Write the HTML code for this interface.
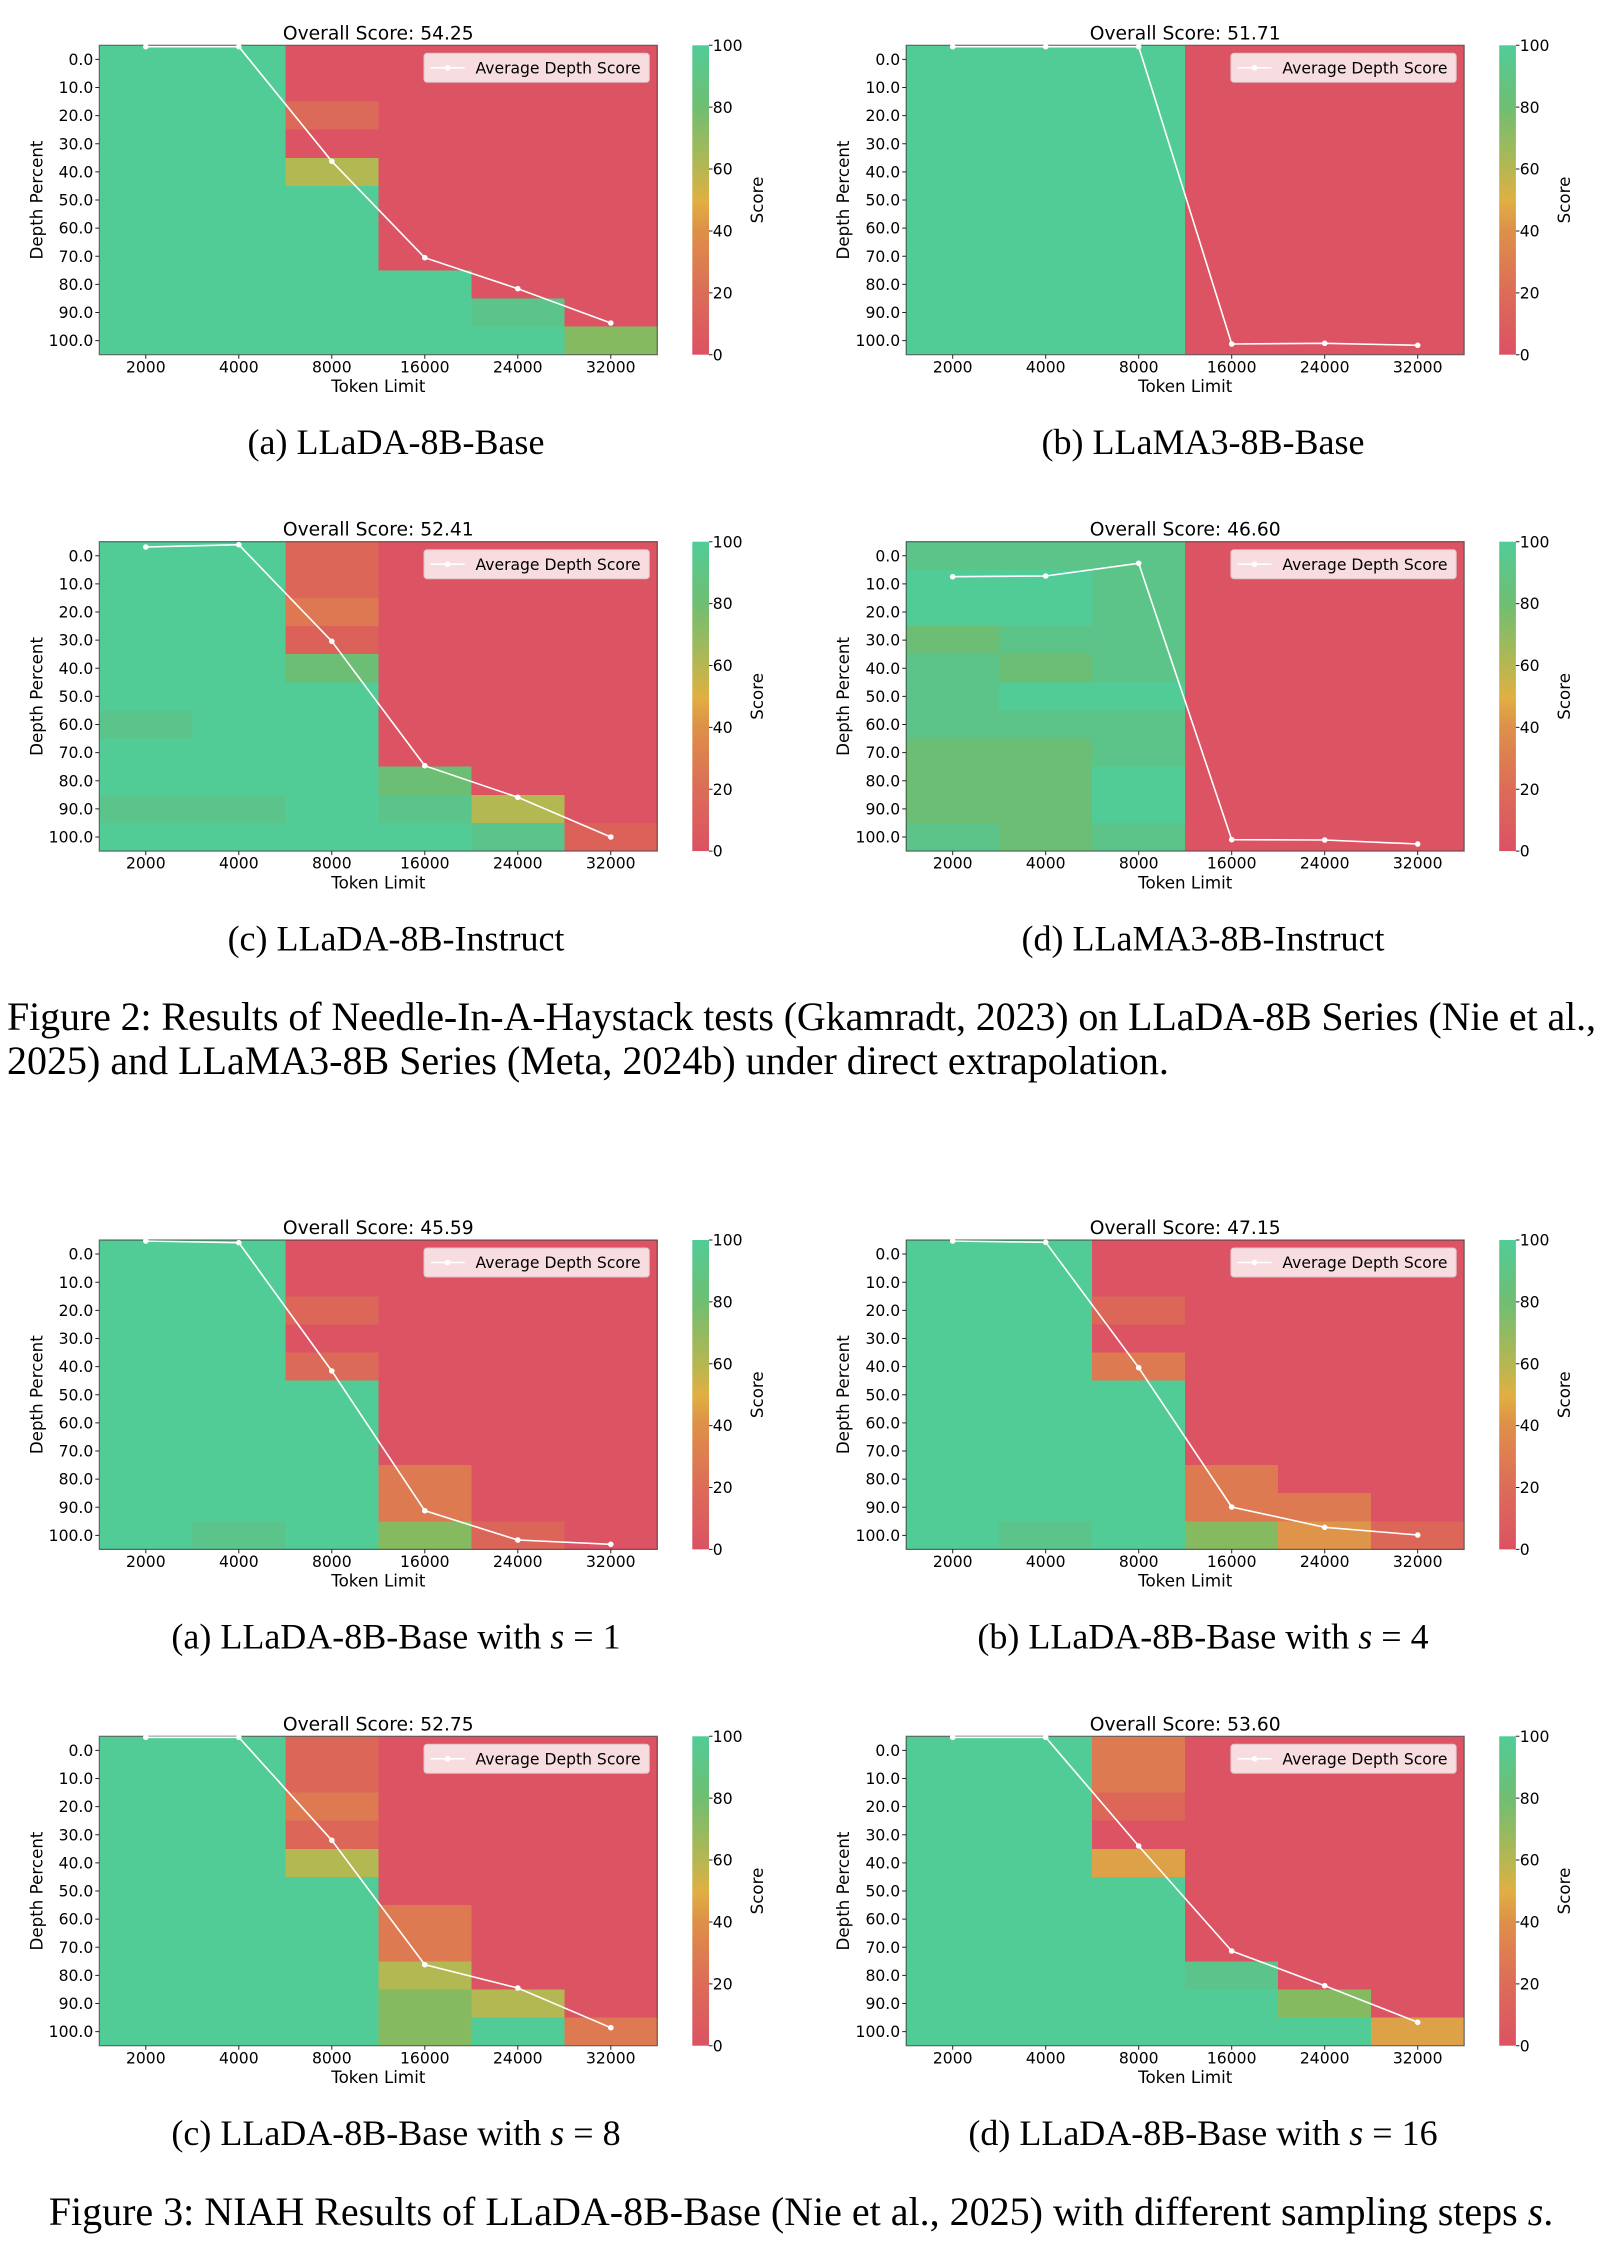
<!DOCTYPE html>
<html>
<head>
<meta charset="utf-8">
<style>
html,body{margin:0;padding:0;background:#fff;}
svg{display:block;}
.tk{font-family:"DejaVu Sans","Liberation Sans",sans-serif;font-size:15.6px;fill:#000;}
.lb{font-family:"DejaVu Sans","Liberation Sans",sans-serif;font-size:16.7px;fill:#000;}
.ti{font-family:"DejaVu Sans","Liberation Sans",sans-serif;font-size:18.7px;fill:#000;}
.cap{font-family:"Liberation Serif","Times New Roman",serif;font-size:36px;fill:#000;}
.fcap{font-family:"Liberation Serif","Times New Roman",serif;font-size:40px;fill:#000;}
.tm{stroke:#222;stroke-width:1;fill:none;}
.fr{fill:none;stroke:#333;stroke-opacity:.7;stroke-width:1.2;}
.avg{fill:none;stroke:#fff;stroke-width:1.6;}
.leg{fill:#F8DDE0;stroke:#DCC3C7;stroke-width:1;}
</style>
</head>
<body>
<svg xmlns="http://www.w3.org/2000/svg" width="1604" height="2244" viewBox="0 0 1604 2244">
<defs>
<linearGradient id="cb" x1="0" y1="0" x2="0" y2="1">
<stop offset="0" stop-color="#51CC97"/>
<stop offset="0.2" stop-color="#6FBE72"/>
<stop offset="0.4" stop-color="#B5B752"/>
<stop offset="0.5" stop-color="#E0B042"/>
<stop offset="0.6" stop-color="#DE9049"/>
<stop offset="0.8" stop-color="#DC6C58"/>
<stop offset="1" stop-color="#DC5263"/>
</linearGradient>
</defs>
<rect width="1604" height="2244" fill="#fff"/>

<!-- ============ FIG 2 (a) ============ -->
<g transform="translate(99.3,45.3)">
<text class="ti" x="279" y="-6" text-anchor="middle">Overall Score: 54.25</text>
<g shape-rendering="crispEdges">
<rect width="558" height="309.4" fill="#51CC97"/>
<rect x="186" width="93" height="140.64" fill="#DC5363"/>
<rect x="186" y="56.25" width="93" height="28.13" fill="#DC6A58"/>
<rect x="186" y="112.51" width="93" height="28.13" fill="#B3B852"/>
<rect x="279" width="93" height="225.02" fill="#DC5363"/>
<rect x="372" width="93" height="253.14" fill="#DC5363"/>
<rect x="372" y="253.14" width="93" height="28.13" fill="#5AC48A"/>
<rect x="465" width="93" height="281.27" fill="#DC5363"/>
<rect x="465" y="281.27" width="93" height="28.13" fill="#86BA60"/>
</g>
<rect class="fr" width="558" height="309.4"/>
<polyline class="avg" points="46.5,1.4 139.5,1.4 232.5,116 325.5,212.4 418.5,243.4 511.5,277.7"/>
<g fill="#fff"><circle cx="46.5" cy="1.4" r="2.8"/><circle cx="139.5" cy="1.4" r="2.8"/><circle cx="232.5" cy="116" r="2.8"/><circle cx="325.5" cy="212.4" r="2.8"/><circle cx="418.5" cy="243.4" r="2.8"/><circle cx="511.5" cy="277.7" r="2.8"/></g>
<rect class="leg" x="324.7" y="8" width="225.3" height="29" rx="3"/>
<line x1="331.4" y1="22.5" x2="365.4" y2="22.5" stroke="#fff" stroke-width="1.6"/><circle cx="348.4" cy="22.5" r="2.8" fill="#fff"/>
<text class="tk" x="376.2" y="28.2">Average Depth Score</text>
<path class="tm" d="M-4 14.06H0M-4 42.19H0M-4 70.32H0M-4 98.44H0M-4 126.57H0M-4 154.7H0M-4 182.82H0M-4 210.95H0M-4 239.08H0M-4 267.2H0M-4 295.33H0M46.5 309.4V313.4M139.5 309.4V313.4M232.5 309.4V313.4M325.5 309.4V313.4M418.5 309.4V313.4M511.5 309.4V313.4"/>
<g class="tk" text-anchor="end"><text x="-6" y="19.66">0.0</text><text x="-6" y="47.79">10.0</text><text x="-6" y="75.92">20.0</text><text x="-6" y="104.04">30.0</text><text x="-6" y="132.17">40.0</text><text x="-6" y="160.3">50.0</text><text x="-6" y="188.42">60.0</text><text x="-6" y="216.55">70.0</text><text x="-6" y="244.68">80.0</text><text x="-6" y="272.8">90.0</text><text x="-6" y="300.93">100.0</text></g>
<g class="tk" text-anchor="middle"><text x="46.5" y="327">2000</text><text x="139.5" y="327">4000</text><text x="232.5" y="327">8000</text><text x="325.5" y="327">16000</text><text x="418.5" y="327">24000</text><text x="511.5" y="327">32000</text></g>
<text class="lb" x="279" y="346.7" text-anchor="middle">Token Limit</text>
<text class="lb" transform="translate(-63,154.7) rotate(-90)" text-anchor="middle" dominant-baseline="central">Depth Percent</text>
<rect x="593" y="0" width="16.7" height="309.4" fill="url(#cb)"/>
<path class="tm" d="M609.7 309.4H613.2M609.7 247.52H613.2M609.7 185.64H613.2M609.7 123.76H613.2M609.7 61.88H613.2M609.7 0H613.2"/>
<g class="tk"><text x="613.5" y="315">0</text><text x="613.5" y="253.1">20</text><text x="613.5" y="191.2">40</text><text x="613.5" y="129.4">60</text><text x="613.5" y="67.5">80</text><text x="613.5" y="5.6">100</text></g>
<text class="lb" transform="translate(657.7,154.7) rotate(-90)" text-anchor="middle" dominant-baseline="central">Score</text>
</g>

<!-- ============ FIG 2 (b) ============ -->
<g transform="translate(906.2,45.3)">
<text class="ti" x="279" y="-6" text-anchor="middle">Overall Score: 51.71</text>
<g shape-rendering="crispEdges">
<rect width="558" height="309.4" fill="#51CC97"/>
<rect x="279" width="279" height="309.4" fill="#DC5363"/>
</g>
<rect class="fr" width="558" height="309.4"/>
<polyline class="avg" points="46.5,1.4 139.5,1.4 232.5,1.4 325.5,298.7 418.5,298 511.5,300"/>
<g fill="#fff"><circle cx="46.5" cy="1.4" r="2.8"/><circle cx="139.5" cy="1.4" r="2.8"/><circle cx="232.5" cy="1.4" r="2.8"/><circle cx="325.5" cy="298.7" r="2.8"/><circle cx="418.5" cy="298" r="2.8"/><circle cx="511.5" cy="300" r="2.8"/></g>
<rect class="leg" x="324.7" y="8" width="225.3" height="29" rx="3"/>
<line x1="331.4" y1="22.5" x2="365.4" y2="22.5" stroke="#fff" stroke-width="1.6"/><circle cx="348.4" cy="22.5" r="2.8" fill="#fff"/>
<text class="tk" x="376.2" y="28.2">Average Depth Score</text>
<path class="tm" d="M-4 14.06H0M-4 42.19H0M-4 70.32H0M-4 98.44H0M-4 126.57H0M-4 154.7H0M-4 182.82H0M-4 210.95H0M-4 239.08H0M-4 267.2H0M-4 295.33H0M46.5 309.4V313.4M139.5 309.4V313.4M232.5 309.4V313.4M325.5 309.4V313.4M418.5 309.4V313.4M511.5 309.4V313.4"/>
<g class="tk" text-anchor="end"><text x="-6" y="19.66">0.0</text><text x="-6" y="47.79">10.0</text><text x="-6" y="75.92">20.0</text><text x="-6" y="104.04">30.0</text><text x="-6" y="132.17">40.0</text><text x="-6" y="160.3">50.0</text><text x="-6" y="188.42">60.0</text><text x="-6" y="216.55">70.0</text><text x="-6" y="244.68">80.0</text><text x="-6" y="272.8">90.0</text><text x="-6" y="300.93">100.0</text></g>
<g class="tk" text-anchor="middle"><text x="46.5" y="327">2000</text><text x="139.5" y="327">4000</text><text x="232.5" y="327">8000</text><text x="325.5" y="327">16000</text><text x="418.5" y="327">24000</text><text x="511.5" y="327">32000</text></g>
<text class="lb" x="279" y="346.7" text-anchor="middle">Token Limit</text>
<text class="lb" transform="translate(-63,154.7) rotate(-90)" text-anchor="middle" dominant-baseline="central">Depth Percent</text>
<rect x="593" y="0" width="16.7" height="309.4" fill="url(#cb)"/>
<path class="tm" d="M609.7 309.4H613.2M609.7 247.52H613.2M609.7 185.64H613.2M609.7 123.76H613.2M609.7 61.88H613.2M609.7 0H613.2"/>
<g class="tk"><text x="613.5" y="315">0</text><text x="613.5" y="253.1">20</text><text x="613.5" y="191.2">40</text><text x="613.5" y="129.4">60</text><text x="613.5" y="67.5">80</text><text x="613.5" y="5.6">100</text></g>
<text class="lb" transform="translate(657.7,154.7) rotate(-90)" text-anchor="middle" dominant-baseline="central">Score</text>
</g>

<text class="cap" x="396" y="454" text-anchor="middle">(a) LLaDA-8B-Base</text>
<text class="cap" x="1203" y="454" text-anchor="middle">(b) LLaMA3-8B-Base</text>

<!-- ============ FIG 2 (c) ============ -->
<g transform="translate(99.3,541.7)">
<text class="ti" x="279" y="-6" text-anchor="middle">Overall Score: 52.41</text>
<g shape-rendering="crispEdges">
<rect width="558" height="309.4" fill="#51CC97"/>
<rect x="0" y="168.76" width="93" height="28.13" fill="#5AC48A"/>
<rect x="0" y="253.14" width="186" height="28.13" fill="#5AC48A"/>
<rect x="186" y="0" width="93" height="56.25" fill="#DC6759"/>
<rect x="186" y="56.25" width="93" height="28.13" fill="#DD7852"/>
<rect x="186" y="84.38" width="93" height="28.13" fill="#DC6259"/>
<rect x="186" y="112.51" width="93" height="28.13" fill="#6DBE75"/>
<rect x="279" width="93" height="225.02" fill="#DC5363"/>
<rect x="279" y="225.02" width="93" height="28.13" fill="#6DBE75"/>
<rect x="279" y="253.14" width="93" height="28.13" fill="#5AC48A"/>
<rect x="372" width="93" height="253.14" fill="#DC5363"/>
<rect x="372" y="253.14" width="93" height="28.13" fill="#B3B852"/>
<rect x="372" y="281.27" width="93" height="28.13" fill="#5AC48A"/>
<rect x="465" width="93" height="281.27" fill="#DC5363"/>
<rect x="465" y="281.27" width="93" height="28.13" fill="#DC6259"/>
</g>
<rect class="fr" width="558" height="309.4"/>
<polyline class="avg" points="46.5,5.3 139.5,3 232.5,99.6 325.5,224 418.5,255.6 511.5,295.3"/>
<g fill="#fff"><circle cx="46.5" cy="5.3" r="2.8"/><circle cx="139.5" cy="3" r="2.8"/><circle cx="232.5" cy="99.6" r="2.8"/><circle cx="325.5" cy="224" r="2.8"/><circle cx="418.5" cy="255.6" r="2.8"/><circle cx="511.5" cy="295.3" r="2.8"/></g>
<rect class="leg" x="324.7" y="8" width="225.3" height="29" rx="3"/>
<line x1="331.4" y1="22.5" x2="365.4" y2="22.5" stroke="#fff" stroke-width="1.6"/><circle cx="348.4" cy="22.5" r="2.8" fill="#fff"/>
<text class="tk" x="376.2" y="28.2">Average Depth Score</text>
<path class="tm" d="M-4 14.06H0M-4 42.19H0M-4 70.32H0M-4 98.44H0M-4 126.57H0M-4 154.7H0M-4 182.82H0M-4 210.95H0M-4 239.08H0M-4 267.2H0M-4 295.33H0M46.5 309.4V313.4M139.5 309.4V313.4M232.5 309.4V313.4M325.5 309.4V313.4M418.5 309.4V313.4M511.5 309.4V313.4"/>
<g class="tk" text-anchor="end"><text x="-6" y="19.66">0.0</text><text x="-6" y="47.79">10.0</text><text x="-6" y="75.92">20.0</text><text x="-6" y="104.04">30.0</text><text x="-6" y="132.17">40.0</text><text x="-6" y="160.3">50.0</text><text x="-6" y="188.42">60.0</text><text x="-6" y="216.55">70.0</text><text x="-6" y="244.68">80.0</text><text x="-6" y="272.8">90.0</text><text x="-6" y="300.93">100.0</text></g>
<g class="tk" text-anchor="middle"><text x="46.5" y="327">2000</text><text x="139.5" y="327">4000</text><text x="232.5" y="327">8000</text><text x="325.5" y="327">16000</text><text x="418.5" y="327">24000</text><text x="511.5" y="327">32000</text></g>
<text class="lb" x="279" y="346.7" text-anchor="middle">Token Limit</text>
<text class="lb" transform="translate(-63,154.7) rotate(-90)" text-anchor="middle" dominant-baseline="central">Depth Percent</text>
<rect x="593" y="0" width="16.7" height="309.4" fill="url(#cb)"/>
<path class="tm" d="M609.7 309.4H613.2M609.7 247.52H613.2M609.7 185.64H613.2M609.7 123.76H613.2M609.7 61.88H613.2M609.7 0H613.2"/>
<g class="tk"><text x="613.5" y="315">0</text><text x="613.5" y="253.1">20</text><text x="613.5" y="191.2">40</text><text x="613.5" y="129.4">60</text><text x="613.5" y="67.5">80</text><text x="613.5" y="5.6">100</text></g>
<text class="lb" transform="translate(657.7,154.7) rotate(-90)" text-anchor="middle" dominant-baseline="central">Score</text>
</g>

<!-- ============ FIG 2 (d) ============ -->
<g transform="translate(906.2,541.7)">
<text class="ti" x="279" y="-6" text-anchor="middle">Overall Score: 46.60</text>
<g shape-rendering="crispEdges">
<rect width="279" height="309.4" fill="#5CC389"/>
<rect x="279" width="279" height="309.4" fill="#DC5363"/>
<rect x="0" y="28.13" width="186" height="56.25" fill="#51CC97"/>
<rect x="0" y="84.38" width="93" height="28.13" fill="#6DBE75"/>
<rect x="0" y="196.89" width="93" height="84.38" fill="#6DBE75"/>
<rect x="93" y="112.51" width="93" height="28.13" fill="#6DBE75"/>
<rect x="93" y="140.64" width="186" height="28.13" fill="#51CC97"/>
<rect x="93" y="196.89" width="93" height="112.51" fill="#6DBE75"/>
<rect x="186" y="225.02" width="93" height="56.25" fill="#51CC97"/>
</g>
<rect class="fr" width="558" height="309.4"/>
<polyline class="avg" points="46.5,35 139.5,34.3 232.5,21.6 325.5,298 418.5,298.3 511.5,302.3"/>
<g fill="#fff"><circle cx="46.5" cy="35" r="2.8"/><circle cx="139.5" cy="34.3" r="2.8"/><circle cx="232.5" cy="21.6" r="2.8"/><circle cx="325.5" cy="298" r="2.8"/><circle cx="418.5" cy="298.3" r="2.8"/><circle cx="511.5" cy="302.3" r="2.8"/></g>
<rect class="leg" x="324.7" y="8" width="225.3" height="29" rx="3"/>
<line x1="331.4" y1="22.5" x2="365.4" y2="22.5" stroke="#fff" stroke-width="1.6"/><circle cx="348.4" cy="22.5" r="2.8" fill="#fff"/>
<text class="tk" x="376.2" y="28.2">Average Depth Score</text>
<path class="tm" d="M-4 14.06H0M-4 42.19H0M-4 70.32H0M-4 98.44H0M-4 126.57H0M-4 154.7H0M-4 182.82H0M-4 210.95H0M-4 239.08H0M-4 267.2H0M-4 295.33H0M46.5 309.4V313.4M139.5 309.4V313.4M232.5 309.4V313.4M325.5 309.4V313.4M418.5 309.4V313.4M511.5 309.4V313.4"/>
<g class="tk" text-anchor="end"><text x="-6" y="19.66">0.0</text><text x="-6" y="47.79">10.0</text><text x="-6" y="75.92">20.0</text><text x="-6" y="104.04">30.0</text><text x="-6" y="132.17">40.0</text><text x="-6" y="160.3">50.0</text><text x="-6" y="188.42">60.0</text><text x="-6" y="216.55">70.0</text><text x="-6" y="244.68">80.0</text><text x="-6" y="272.8">90.0</text><text x="-6" y="300.93">100.0</text></g>
<g class="tk" text-anchor="middle"><text x="46.5" y="327">2000</text><text x="139.5" y="327">4000</text><text x="232.5" y="327">8000</text><text x="325.5" y="327">16000</text><text x="418.5" y="327">24000</text><text x="511.5" y="327">32000</text></g>
<text class="lb" x="279" y="346.7" text-anchor="middle">Token Limit</text>
<text class="lb" transform="translate(-63,154.7) rotate(-90)" text-anchor="middle" dominant-baseline="central">Depth Percent</text>
<rect x="593" y="0" width="16.7" height="309.4" fill="url(#cb)"/>
<path class="tm" d="M609.7 309.4H613.2M609.7 247.52H613.2M609.7 185.64H613.2M609.7 123.76H613.2M609.7 61.88H613.2M609.7 0H613.2"/>
<g class="tk"><text x="613.5" y="315">0</text><text x="613.5" y="253.1">20</text><text x="613.5" y="191.2">40</text><text x="613.5" y="129.4">60</text><text x="613.5" y="67.5">80</text><text x="613.5" y="5.6">100</text></g>
<text class="lb" transform="translate(657.7,154.7) rotate(-90)" text-anchor="middle" dominant-baseline="central">Score</text>
</g>

<text class="cap" x="396" y="950.4" text-anchor="middle">(c) LLaDA-8B-Instruct</text>
<text class="cap" x="1203" y="950.4" text-anchor="middle">(d) LLaMA3-8B-Instruct</text>

<text class="fcap" x="7" y="1030" textLength="1589" lengthAdjust="spacing">Figure 2: Results of Needle-In-A-Haystack tests (Gkamradt, 2023) on LLaDA-8B Series (Nie et al.,</text>
<text class="fcap" x="7" y="1074">2025) and LLaMA3-8B Series (Meta, 2024b) under direct extrapolation.</text>

<!-- ============ FIG 3 (a) ============ -->
<g transform="translate(99.3,1240)">
<text class="ti" x="279" y="-6" text-anchor="middle">Overall Score: 45.59</text>
<g shape-rendering="crispEdges">
<rect width="558" height="309.4" fill="#51CC97"/>
<rect x="93" y="281.27" width="93" height="28.13" fill="#5AC48A"/>
<rect x="186" width="93" height="140.64" fill="#DC5363"/>
<rect x="186" y="56.25" width="93" height="28.13" fill="#DC6759"/>
<rect x="186" y="112.51" width="93" height="28.13" fill="#DC6A58"/>
<rect x="279" width="93" height="225.02" fill="#DC5363"/>
<rect x="279" y="225.02" width="93" height="56.25" fill="#DD7A52"/>
<rect x="279" y="281.27" width="93" height="28.13" fill="#86BA60"/>
<rect x="372" width="93" height="281.27" fill="#DC5363"/>
<rect x="372" y="281.27" width="93" height="28.13" fill="#DC6559"/>
<rect x="465" width="93" height="309.4" fill="#DC5363"/>
</g>
<rect class="fr" width="558" height="309.4"/>
<polyline class="avg" points="46.5,1 139.5,2.7 232.5,131 325.5,270.7 418.5,300 511.5,304.3"/>
<g fill="#fff"><circle cx="46.5" cy="1" r="2.8"/><circle cx="139.5" cy="2.7" r="2.8"/><circle cx="232.5" cy="131" r="2.8"/><circle cx="325.5" cy="270.7" r="2.8"/><circle cx="418.5" cy="300" r="2.8"/><circle cx="511.5" cy="304.3" r="2.8"/></g>
<rect class="leg" x="324.7" y="8" width="225.3" height="29" rx="3"/>
<line x1="331.4" y1="22.5" x2="365.4" y2="22.5" stroke="#fff" stroke-width="1.6"/><circle cx="348.4" cy="22.5" r="2.8" fill="#fff"/>
<text class="tk" x="376.2" y="28.2">Average Depth Score</text>
<path class="tm" d="M-4 14.06H0M-4 42.19H0M-4 70.32H0M-4 98.44H0M-4 126.57H0M-4 154.7H0M-4 182.82H0M-4 210.95H0M-4 239.08H0M-4 267.2H0M-4 295.33H0M46.5 309.4V313.4M139.5 309.4V313.4M232.5 309.4V313.4M325.5 309.4V313.4M418.5 309.4V313.4M511.5 309.4V313.4"/>
<g class="tk" text-anchor="end"><text x="-6" y="19.66">0.0</text><text x="-6" y="47.79">10.0</text><text x="-6" y="75.92">20.0</text><text x="-6" y="104.04">30.0</text><text x="-6" y="132.17">40.0</text><text x="-6" y="160.3">50.0</text><text x="-6" y="188.42">60.0</text><text x="-6" y="216.55">70.0</text><text x="-6" y="244.68">80.0</text><text x="-6" y="272.8">90.0</text><text x="-6" y="300.93">100.0</text></g>
<g class="tk" text-anchor="middle"><text x="46.5" y="327">2000</text><text x="139.5" y="327">4000</text><text x="232.5" y="327">8000</text><text x="325.5" y="327">16000</text><text x="418.5" y="327">24000</text><text x="511.5" y="327">32000</text></g>
<text class="lb" x="279" y="346.7" text-anchor="middle">Token Limit</text>
<text class="lb" transform="translate(-63,154.7) rotate(-90)" text-anchor="middle" dominant-baseline="central">Depth Percent</text>
<rect x="593" y="0" width="16.7" height="309.4" fill="url(#cb)"/>
<path class="tm" d="M609.7 309.4H613.2M609.7 247.52H613.2M609.7 185.64H613.2M609.7 123.76H613.2M609.7 61.88H613.2M609.7 0H613.2"/>
<g class="tk"><text x="613.5" y="315">0</text><text x="613.5" y="253.1">20</text><text x="613.5" y="191.2">40</text><text x="613.5" y="129.4">60</text><text x="613.5" y="67.5">80</text><text x="613.5" y="5.6">100</text></g>
<text class="lb" transform="translate(657.7,154.7) rotate(-90)" text-anchor="middle" dominant-baseline="central">Score</text>
</g>

<!-- ============ FIG 3 (b) ============ -->
<g transform="translate(906.2,1240)">
<text class="ti" x="279" y="-6" text-anchor="middle">Overall Score: 47.15</text>
<g shape-rendering="crispEdges">
<rect width="558" height="309.4" fill="#51CC97"/>
<rect x="93" y="281.27" width="93" height="28.13" fill="#5AC48A"/>
<rect x="186" width="93" height="140.64" fill="#DC5363"/>
<rect x="186" y="56.25" width="93" height="28.13" fill="#DC6759"/>
<rect x="186" y="112.51" width="93" height="28.13" fill="#DD7A52"/>
<rect x="279" width="93" height="225.02" fill="#DC5363"/>
<rect x="279" y="225.02" width="93" height="56.25" fill="#DD7A52"/>
<rect x="279" y="281.27" width="93" height="28.13" fill="#86BA60"/>
<rect x="372" width="93" height="253.14" fill="#DC5363"/>
<rect x="372" y="253.14" width="93" height="28.13" fill="#DD7A52"/>
<rect x="372" y="281.27" width="93" height="28.13" fill="#DE9449"/>
<rect x="465" width="93" height="281.27" fill="#DC5363"/>
<rect x="465" y="281.27" width="93" height="28.13" fill="#DC6759"/>
</g>
<rect class="fr" width="558" height="309.4"/>
<polyline class="avg" points="46.5,1 139.5,2.3 232.5,127.7 325.5,267 418.5,287.3 511.5,295"/>
<g fill="#fff"><circle cx="46.5" cy="1" r="2.8"/><circle cx="139.5" cy="2.3" r="2.8"/><circle cx="232.5" cy="127.7" r="2.8"/><circle cx="325.5" cy="267" r="2.8"/><circle cx="418.5" cy="287.3" r="2.8"/><circle cx="511.5" cy="295" r="2.8"/></g>
<rect class="leg" x="324.7" y="8" width="225.3" height="29" rx="3"/>
<line x1="331.4" y1="22.5" x2="365.4" y2="22.5" stroke="#fff" stroke-width="1.6"/><circle cx="348.4" cy="22.5" r="2.8" fill="#fff"/>
<text class="tk" x="376.2" y="28.2">Average Depth Score</text>
<path class="tm" d="M-4 14.06H0M-4 42.19H0M-4 70.32H0M-4 98.44H0M-4 126.57H0M-4 154.7H0M-4 182.82H0M-4 210.95H0M-4 239.08H0M-4 267.2H0M-4 295.33H0M46.5 309.4V313.4M139.5 309.4V313.4M232.5 309.4V313.4M325.5 309.4V313.4M418.5 309.4V313.4M511.5 309.4V313.4"/>
<g class="tk" text-anchor="end"><text x="-6" y="19.66">0.0</text><text x="-6" y="47.79">10.0</text><text x="-6" y="75.92">20.0</text><text x="-6" y="104.04">30.0</text><text x="-6" y="132.17">40.0</text><text x="-6" y="160.3">50.0</text><text x="-6" y="188.42">60.0</text><text x="-6" y="216.55">70.0</text><text x="-6" y="244.68">80.0</text><text x="-6" y="272.8">90.0</text><text x="-6" y="300.93">100.0</text></g>
<g class="tk" text-anchor="middle"><text x="46.5" y="327">2000</text><text x="139.5" y="327">4000</text><text x="232.5" y="327">8000</text><text x="325.5" y="327">16000</text><text x="418.5" y="327">24000</text><text x="511.5" y="327">32000</text></g>
<text class="lb" x="279" y="346.7" text-anchor="middle">Token Limit</text>
<text class="lb" transform="translate(-63,154.7) rotate(-90)" text-anchor="middle" dominant-baseline="central">Depth Percent</text>
<rect x="593" y="0" width="16.7" height="309.4" fill="url(#cb)"/>
<path class="tm" d="M609.7 309.4H613.2M609.7 247.52H613.2M609.7 185.64H613.2M609.7 123.76H613.2M609.7 61.88H613.2M609.7 0H613.2"/>
<g class="tk"><text x="613.5" y="315">0</text><text x="613.5" y="253.1">20</text><text x="613.5" y="191.2">40</text><text x="613.5" y="129.4">60</text><text x="613.5" y="67.5">80</text><text x="613.5" y="5.6">100</text></g>
<text class="lb" transform="translate(657.7,154.7) rotate(-90)" text-anchor="middle" dominant-baseline="central">Score</text>
</g>

<text class="cap" x="396" y="1648.7" text-anchor="middle">(a) LLaDA-8B-Base with <tspan font-style="italic">s</tspan> = 1</text>
<text class="cap" x="1203" y="1648.7" text-anchor="middle">(b) LLaDA-8B-Base with <tspan font-style="italic">s</tspan> = 4</text>

<!-- ============ FIG 3 (c) ============ -->
<g transform="translate(99.3,1736.3)">
<text class="ti" x="279" y="-6" text-anchor="middle">Overall Score: 52.75</text>
<g shape-rendering="crispEdges">
<rect width="558" height="309.4" fill="#51CC97"/>
<rect x="186" y="0" width="93" height="56.25" fill="#DC6759"/>
<rect x="186" y="56.25" width="93" height="28.13" fill="#DD7A52"/>
<rect x="186" y="84.38" width="93" height="28.13" fill="#DC6759"/>
<rect x="186" y="112.51" width="93" height="28.13" fill="#B3B852"/>
<rect x="279" width="93" height="168.76" fill="#DC5363"/>
<rect x="279" y="168.76" width="93" height="56.26" fill="#DD7A52"/>
<rect x="279" y="225.02" width="93" height="28.13" fill="#B3B852"/>
<rect x="279" y="253.14" width="93" height="56.26" fill="#86BA60"/>
<rect x="372" width="93" height="253.14" fill="#DC5363"/>
<rect x="372" y="253.14" width="93" height="28.13" fill="#B3B852"/>
<rect x="465" width="93" height="281.27" fill="#DC5363"/>
<rect x="465" y="281.27" width="93" height="28.13" fill="#DD7A52"/>
</g>
<rect class="fr" width="558" height="309.4"/>
<polyline class="avg" points="46.5,1 139.5,1 232.5,104 325.5,228.4 418.5,251.7 511.5,291.4"/>
<g fill="#fff"><circle cx="46.5" cy="1" r="2.8"/><circle cx="139.5" cy="1" r="2.8"/><circle cx="232.5" cy="104" r="2.8"/><circle cx="325.5" cy="228.4" r="2.8"/><circle cx="418.5" cy="251.7" r="2.8"/><circle cx="511.5" cy="291.4" r="2.8"/></g>
<rect class="leg" x="324.7" y="8" width="225.3" height="29" rx="3"/>
<line x1="331.4" y1="22.5" x2="365.4" y2="22.5" stroke="#fff" stroke-width="1.6"/><circle cx="348.4" cy="22.5" r="2.8" fill="#fff"/>
<text class="tk" x="376.2" y="28.2">Average Depth Score</text>
<path class="tm" d="M-4 14.06H0M-4 42.19H0M-4 70.32H0M-4 98.44H0M-4 126.57H0M-4 154.7H0M-4 182.82H0M-4 210.95H0M-4 239.08H0M-4 267.2H0M-4 295.33H0M46.5 309.4V313.4M139.5 309.4V313.4M232.5 309.4V313.4M325.5 309.4V313.4M418.5 309.4V313.4M511.5 309.4V313.4"/>
<g class="tk" text-anchor="end"><text x="-6" y="19.66">0.0</text><text x="-6" y="47.79">10.0</text><text x="-6" y="75.92">20.0</text><text x="-6" y="104.04">30.0</text><text x="-6" y="132.17">40.0</text><text x="-6" y="160.3">50.0</text><text x="-6" y="188.42">60.0</text><text x="-6" y="216.55">70.0</text><text x="-6" y="244.68">80.0</text><text x="-6" y="272.8">90.0</text><text x="-6" y="300.93">100.0</text></g>
<g class="tk" text-anchor="middle"><text x="46.5" y="327">2000</text><text x="139.5" y="327">4000</text><text x="232.5" y="327">8000</text><text x="325.5" y="327">16000</text><text x="418.5" y="327">24000</text><text x="511.5" y="327">32000</text></g>
<text class="lb" x="279" y="346.7" text-anchor="middle">Token Limit</text>
<text class="lb" transform="translate(-63,154.7) rotate(-90)" text-anchor="middle" dominant-baseline="central">Depth Percent</text>
<rect x="593" y="0" width="16.7" height="309.4" fill="url(#cb)"/>
<path class="tm" d="M609.7 309.4H613.2M609.7 247.52H613.2M609.7 185.64H613.2M609.7 123.76H613.2M609.7 61.88H613.2M609.7 0H613.2"/>
<g class="tk"><text x="613.5" y="315">0</text><text x="613.5" y="253.1">20</text><text x="613.5" y="191.2">40</text><text x="613.5" y="129.4">60</text><text x="613.5" y="67.5">80</text><text x="613.5" y="5.6">100</text></g>
<text class="lb" transform="translate(657.7,154.7) rotate(-90)" text-anchor="middle" dominant-baseline="central">Score</text>
</g>

<!-- ============ FIG 3 (d) ============ -->
<g transform="translate(906.2,1736.3)">
<text class="ti" x="279" y="-6" text-anchor="middle">Overall Score: 53.60</text>
<g shape-rendering="crispEdges">
<rect width="558" height="309.4" fill="#51CC97"/>
<rect x="186" y="0" width="93" height="56.25" fill="#DD7A52"/>
<rect x="186" y="56.25" width="93" height="28.13" fill="#DC6759"/>
<rect x="186" y="84.38" width="93" height="28.13" fill="#DC5363"/>
<rect x="186" y="112.51" width="93" height="28.13" fill="#DDA247"/>
<rect x="279" width="93" height="225.02" fill="#DC5363"/>
<rect x="279" y="225.02" width="93" height="28.13" fill="#5AC48A"/>
<rect x="372" width="93" height="253.14" fill="#DC5363"/>
<rect x="372" y="253.14" width="93" height="28.13" fill="#86BA60"/>
<rect x="465" width="93" height="281.27" fill="#DC5363"/>
<rect x="465" y="281.27" width="93" height="28.13" fill="#DDA247"/>
</g>
<rect class="fr" width="558" height="309.4"/>
<polyline class="avg" points="46.5,1 139.5,1 232.5,109.7 325.5,214.7 418.5,249.4 511.5,286"/>
<g fill="#fff"><circle cx="46.5" cy="1" r="2.8"/><circle cx="139.5" cy="1" r="2.8"/><circle cx="232.5" cy="109.7" r="2.8"/><circle cx="325.5" cy="214.7" r="2.8"/><circle cx="418.5" cy="249.4" r="2.8"/><circle cx="511.5" cy="286" r="2.8"/></g>
<rect class="leg" x="324.7" y="8" width="225.3" height="29" rx="3"/>
<line x1="331.4" y1="22.5" x2="365.4" y2="22.5" stroke="#fff" stroke-width="1.6"/><circle cx="348.4" cy="22.5" r="2.8" fill="#fff"/>
<text class="tk" x="376.2" y="28.2">Average Depth Score</text>
<path class="tm" d="M-4 14.06H0M-4 42.19H0M-4 70.32H0M-4 98.44H0M-4 126.57H0M-4 154.7H0M-4 182.82H0M-4 210.95H0M-4 239.08H0M-4 267.2H0M-4 295.33H0M46.5 309.4V313.4M139.5 309.4V313.4M232.5 309.4V313.4M325.5 309.4V313.4M418.5 309.4V313.4M511.5 309.4V313.4"/>
<g class="tk" text-anchor="end"><text x="-6" y="19.66">0.0</text><text x="-6" y="47.79">10.0</text><text x="-6" y="75.92">20.0</text><text x="-6" y="104.04">30.0</text><text x="-6" y="132.17">40.0</text><text x="-6" y="160.3">50.0</text><text x="-6" y="188.42">60.0</text><text x="-6" y="216.55">70.0</text><text x="-6" y="244.68">80.0</text><text x="-6" y="272.8">90.0</text><text x="-6" y="300.93">100.0</text></g>
<g class="tk" text-anchor="middle"><text x="46.5" y="327">2000</text><text x="139.5" y="327">4000</text><text x="232.5" y="327">8000</text><text x="325.5" y="327">16000</text><text x="418.5" y="327">24000</text><text x="511.5" y="327">32000</text></g>
<text class="lb" x="279" y="346.7" text-anchor="middle">Token Limit</text>
<text class="lb" transform="translate(-63,154.7) rotate(-90)" text-anchor="middle" dominant-baseline="central">Depth Percent</text>
<rect x="593" y="0" width="16.7" height="309.4" fill="url(#cb)"/>
<path class="tm" d="M609.7 309.4H613.2M609.7 247.52H613.2M609.7 185.64H613.2M609.7 123.76H613.2M609.7 61.88H613.2M609.7 0H613.2"/>
<g class="tk"><text x="613.5" y="315">0</text><text x="613.5" y="253.1">20</text><text x="613.5" y="191.2">40</text><text x="613.5" y="129.4">60</text><text x="613.5" y="67.5">80</text><text x="613.5" y="5.6">100</text></g>
<text class="lb" transform="translate(657.7,154.7) rotate(-90)" text-anchor="middle" dominant-baseline="central">Score</text>
</g>

<text class="cap" x="396" y="2145" text-anchor="middle">(c) LLaDA-8B-Base with <tspan font-style="italic">s</tspan> = 8</text>
<text class="cap" x="1203" y="2145" text-anchor="middle">(d) LLaDA-8B-Base with <tspan font-style="italic">s</tspan> = 16</text>

<text class="fcap" x="801" y="2225" text-anchor="middle">Figure 3: NIAH Results of LLaDA-8B-Base (Nie et al., 2025) with different sampling steps <tspan font-style="italic">s</tspan>.</text>
</svg>
</body>
</html>
